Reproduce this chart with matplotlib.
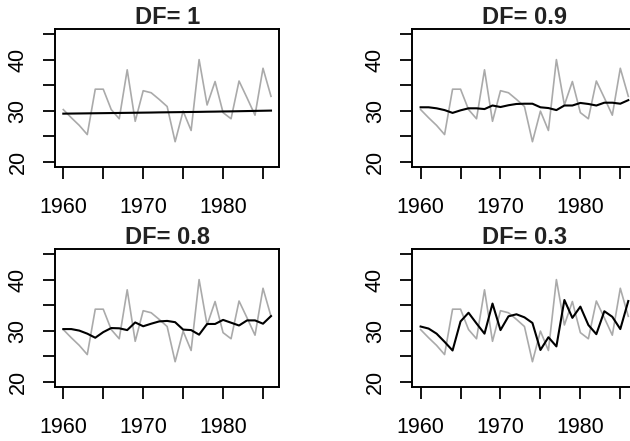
"""
plot.py
-------
Four panels comparing a raw annual series (grey) with its smoothed
version (black) at different discount factors (DF).
"""

import matplotlib
matplotlib.use("Agg")
import matplotlib.pyplot as plt

plt.rcParams["font.family"] = ["Liberation Sans", "DejaVu Sans"]

# ---------------------------------------------------------------------------
# Data
# ---------------------------------------------------------------------------

years = list(range(1960, 1987))

raw = [30.2, 28.6, 27.1, 25.3, 34.2, 34.2, 30.2, 28.4, 38.0, 27.9,
       33.9, 33.5, 32.2, 30.8, 23.9, 29.9, 26.1, 40.0, 31.1, 35.7,
       29.6, 28.4, 35.8, 32.5, 29.1, 38.3, 32.8]

df_10 = [29.40, 29.42, 29.44, 29.46, 29.48, 29.50, 29.52, 29.54, 29.56,
         29.58, 29.60, 29.62, 29.65, 29.67, 29.69, 29.71, 29.73, 29.75,
         29.78, 29.80, 29.83, 29.85, 29.88, 29.91, 29.94, 29.97, 30.00]

df_09 = [30.65, 30.65, 30.45, 30.1, 29.55, 30.05, 30.45, 30.45, 30.3,
         31.0, 30.7, 31.05, 31.3, 31.35, 31.35, 30.65, 30.5, 30.1,
         31.0, 31.0, 31.5, 31.3, 31.0, 31.55, 31.55, 31.35, 32.05]

df_08 = [30.3, 30.3, 30.0, 29.4, 28.6, 29.7, 30.5, 30.45, 30.1,
         31.6, 30.85, 31.35, 31.8, 31.9, 31.65, 30.2, 30.1, 29.2,
         31.3, 31.3, 32.1, 31.55, 31.0, 32.0, 32.0, 31.35, 32.85]

df_03 = [30.8, 30.4, 29.4, 27.8, 26.1, 31.8, 33.5, 31.4, 29.4,
         35.3, 30.1, 32.8, 33.2, 32.6, 31.5, 26.2, 28.7, 26.9,
         36.0, 32.5, 34.7, 31.1, 29.3, 33.8, 32.7, 30.3, 35.8]

titles = ["DF= 1", "DF= 0.9", "DF= 0.8", "DF= 0.3"]
smooths = [df_10, df_09, df_08, df_03]

x_ticks = [1960, 1965, 1970, 1975, 1980, 1985]
x_labels = ["1960", "", "1970", "", "1980", ""]
y_ticks = [20, 25, 30, 35, 40, 45]
y_labels = ["20", "", "30", "", "40", ""]


# ---------------------------------------------------------------------------
# Layout (figure fractions, R-style panels; right column is cut off)
# ---------------------------------------------------------------------------

W, H = 630, 441
PANEL_W, PANEL_H = 224.3, 137.7
LEFTS = [55.0, 412.3]
BOTTOMS = [166.7, 386.7]


def style_panel(ax, title):
    ax.set_xlim(1958.96, 1987.04)
    ax.set_ylim(19, 46)
    ax.set_xticks(x_ticks)
    ax.set_xticklabels(x_labels)
    ax.set_yticks(y_ticks)
    ax.set_yticklabels(y_labels, rotation=90, va="center")
    ax.tick_params(axis="x", direction="out", length=8.6, width=1.3,
                   labelsize=15.5, pad=13.5)
    ax.tick_params(axis="y", direction="out", length=8.6, width=1.3,
                   labelsize=15.5, pad=10.5)
    for spine in ax.spines.values():
        spine.set_linewidth(1.4)
        spine.set_color("black")
    ax.set_title(title, fontsize=17, fontweight="bold", pad=3.5,
                 color="#222222")


def main():
    fig = plt.figure(figsize=(W / 100, H / 100), dpi=100, facecolor="white")

    for i, (title, smooth) in enumerate(zip(titles, smooths)):
        row, col = divmod(i, 2)
        left = LEFTS[col] / W
        bottom = 1 - BOTTOMS[row] / H
        ax = fig.add_axes([left, bottom, PANEL_W / W, PANEL_H / H])
        ax.plot(years, raw, color="#aaaaaa", lw=1.2)
        ax.plot(years, smooth, color="black", lw=1.5)
        style_panel(ax, title)

    fig.savefig("out.png", dpi=100, facecolor="white")
    plt.close(fig)


if __name__ == "__main__":
    main()
